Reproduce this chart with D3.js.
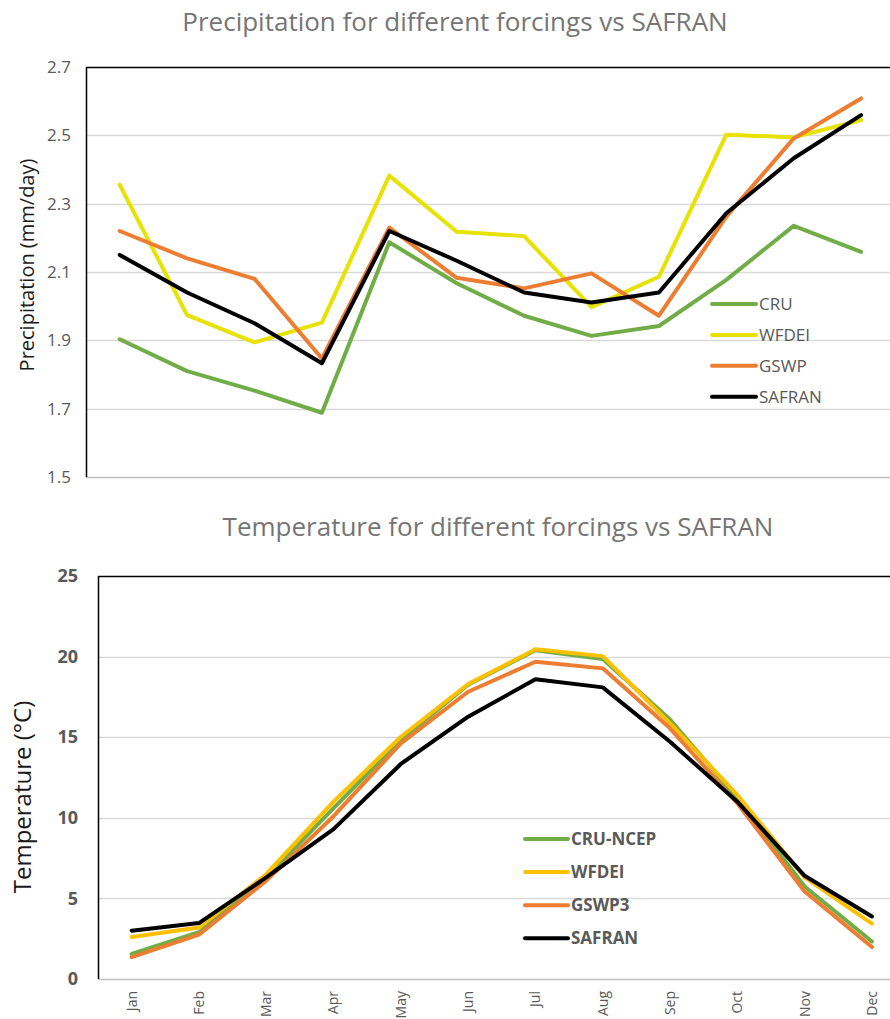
<!DOCTYPE html>
<html><head><meta charset="utf-8">
<script src="https://cdn.jsdelivr.net/npm/d3@7"></script>
<style>
html,body{margin:0;padding:0;background:#fff;overflow:hidden}
svg{display:block;font-family:"Open Sans",sans-serif}
</style></head>
<body>
<script>
const months = ["Jan","Feb","Mar","Apr","May","Jun","Jul","Aug","Sep","Oct","Nov","Dec"];

// Precipitation (mm/day)
const precipCRU    = [1.903,1.810,1.753,1.688,2.187,2.067,1.972,1.913,1.942,2.077,2.235,2.159];
const precipWFDEI  = [2.355,1.974,1.894,1.952,2.382,2.218,2.205,1.997,2.086,2.502,2.494,2.545];
const precipGSWP   = [2.220,2.140,2.080,1.847,2.230,2.083,2.052,2.096,1.972,2.262,2.491,2.608];
const precipSAFRAN = [2.150,2.040,1.950,1.833,2.220,2.133,2.040,2.011,2.040,2.272,2.433,2.559];
const precipTicks  = [1.5,1.7,1.9,2.1,2.3,2.5,2.7];

// Temperature (°C)
const tempCRU    = [1.55,2.90,6.30,10.60,14.83,18.25,20.40,19.85,16.10,11.20,5.74,2.33];
const tempWFDEI  = [2.60,3.20,6.50,11.00,15.03,18.30,20.45,20.03,15.86,11.42,6.30,3.43];
const tempGSWP3  = [1.36,2.75,6.10,10.10,14.62,17.82,19.68,19.27,15.55,10.90,5.43,1.98];
const tempSAFRAN = [3.00,3.47,6.30,9.30,13.34,16.27,18.59,18.09,14.72,11.00,6.40,3.88];
const tempTicks  = [0,5,10,15,20,25];

const W = 890, H = 1019;
const svg = d3.select("body").append("svg").attr("width", W).attr("height", H);

function drawChart(cfg) {
  const g = svg.append("g");
  const x = d3.scaleBand().domain(months).range([cfg.left, cfg.left + cfg.band * 12]);
  const y = d3.scaleLinear().domain(cfg.domain).range([cfg.bottom, cfg.top]);

  // title
  g.append("text").attr("x", cfg.titleX).attr("y", cfg.titleY)
    .attr("text-anchor", "middle").attr("fill", "#757575")
    .style("font-size", cfg.titleSize + "px").text(cfg.title);

  // gridlines
  g.append("g").selectAll("line").data(cfg.ticks.slice(1, -1)).join("line")
    .attr("x1", cfg.left).attr("x2", W)
    .attr("y1", d => Math.round(y(d)) + 0.5).attr("y2", d => Math.round(y(d)) + 0.5)
    .attr("stroke", "#d9d9d9").attr("stroke-width", 1.5);

  // bottom axis line
  g.append("line").attr("x1", cfg.left).attr("x2", W)
    .attr("y1", Math.round(y(cfg.domain[0])) + 0.5).attr("y2", Math.round(y(cfg.domain[0])) + 0.5)
    .attr("stroke", "#bfbfbf").attr("stroke-width", 1.5);
  // top border
  g.append("line").attr("x1", cfg.left).attr("x2", W)
    .attr("y1", Math.round(y(cfg.domain[1])) + 0.5).attr("y2", Math.round(y(cfg.domain[1])) + 0.5)
    .attr("stroke", "#000").attr("stroke-width", 1.5);
  // left border
  g.append("line").attr("x1", cfg.left + 0.5).attr("x2", cfg.left + 0.5)
    .attr("y1", y(cfg.domain[1])).attr("y2", y(cfg.domain[0]))
    .attr("stroke", "#000").attr("stroke-width", 1.5);

  // y tick labels
  const yAxis = d3.axisLeft(y).tickValues(cfg.ticks).tickFormat(cfg.fmt).tickSize(0).tickPadding(0);
  const ya = g.append("g").attr("transform", `translate(${cfg.tickRight},0)`).call(yAxis);
  ya.select(".domain").remove();
  ya.selectAll("text").attr("fill", "#595959")
    .style("font-size", cfg.tickSize + "px").style("font-family", "'Open Sans',sans-serif")
    .style("font-weight", cfg.tickWeight);

  // y axis title
  g.append("text").attr("transform", `translate(${cfg.yLabelX},${cfg.yLabelY}) rotate(-90)`)
    .attr("text-anchor", "middle").attr("fill", "#1a1a1a")
    .style("font-size", cfg.yLabelSize + "px").text(cfg.yLabel);

  // x labels
  if (cfg.xLabels) {
    const xAxis = d3.axisBottom(x).tickSize(0).tickPadding(0);
    const xa = g.append("g").attr("transform", `translate(0,${cfg.bottom})`).call(xAxis);
    xa.select(".domain").remove();
    xa.selectAll("text")
      .attr("transform", "rotate(-90)")
      .attr("x", -12).attr("y", 0).attr("dy", "0.35em")
      .attr("text-anchor", "end").attr("fill", "#595959")
      .style("font-size", "14px").style("font-family", "'Open Sans',sans-serif");
  }

  // lines
  const line = d3.line().x((d, i) => x(months[i]) + x.bandwidth() / 2).y(d => y(d));
  cfg.series.forEach(s => {
    g.append("path").datum(s.values).attr("d", line)
      .attr("fill", "none").attr("stroke", s.color).attr("stroke-width", 4)
      .attr("stroke-linejoin", "round").attr("stroke-linecap", "round");
  });

  // legend
  const lg = g.append("g");
  cfg.series.forEach((s, i) => {
    const ly = cfg.legendY + i * cfg.legendStep;
    lg.append("line").attr("x1", cfg.legendX).attr("x2", cfg.legendX + cfg.legendLen)
      .attr("y1", ly).attr("y2", ly).attr("stroke", s.color).attr("stroke-width", 4)
      .attr("stroke-linecap", "round");
    lg.append("text").attr("x", cfg.legendX + cfg.legendLen + 3).attr("y", ly)
      .attr("dy", "0.35em").attr("fill", "#595959")
      .style("font-size", cfg.legendSize + "px").style("font-weight", cfg.legendWeight)
      .text(s.name);
  });
}

drawChart({
  title: "Precipitation for different forcings vs SAFRAN",
  titleX: 455, titleY: 31, titleSize: 26,
  left: 86, band: 67.4, top: 67, bottom: 477,
  domain: [1.5, 2.7], ticks: precipTicks, fmt: d3.format(".1f"),
  tickRight: 71, tickSize: 17, tickWeight: "normal",
  yLabel: "Precipitation (mm/day)", yLabelX: 34, yLabelY: 265, yLabelSize: 20,
  xLabels: false,
  series: [
    {name: "CRU", color: "#70ad47", values: precipCRU},
    {name: "WFDEI", color: "#e8e200", values: precipWFDEI},
    {name: "GSWP", color: "#ed7d31", values: precipGSWP},
    {name: "SAFRAN", color: "#000000", values: precipSAFRAN}
  ],
  legendX: 712, legendLen: 44, legendY: 304, legendStep: 30.9, legendSize: 17, legendWeight: "normal"
});

drawChart({
  title: "Temperature for different forcings vs SAFRAN",
  titleX: 498, titleY: 536, titleSize: 26,
  left: 98, band: 67.3, top: 576, bottom: 979,
  domain: [0, 25], ticks: tempTicks, fmt: d3.format("d"),
  tickRight: 78, tickSize: 18, tickWeight: "bold",
  yLabel: "Temperature (°C)", yLabelX: 31, yLabelY: 797, yLabelSize: 24,
  xLabels: true,
  series: [
    {name: "CRU-NCEP", color: "#70ad47", values: tempCRU},
    {name: "WFDEI", color: "#ffc000", values: tempWFDEI},
    {name: "GSWP3", color: "#ed7d31", values: tempGSWP3},
    {name: "SAFRAN", color: "#000000", values: tempSAFRAN}
  ],
  legendX: 525, legendLen: 43, legendY: 839, legendStep: 33.1, legendSize: 17, legendWeight: "bold"
});
</script>
</body></html>
